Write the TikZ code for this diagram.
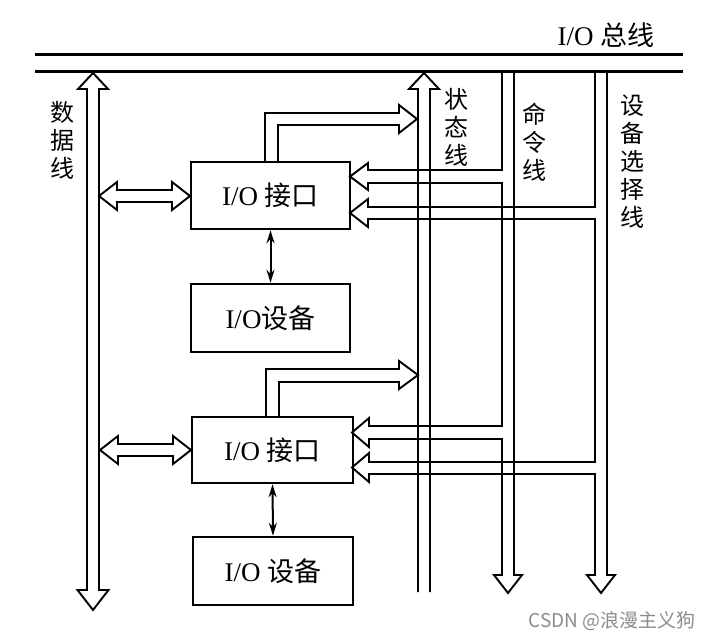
\documentclass[tikz,border=0pt]{standalone}
\usepackage{fontspec}
\setmainfont{Liberation Serif}
\newfontfamily\cjk{Noto Sans CJK SC}
\usetikzlibrary{arrows.meta}
\begin{document}
\begin{tikzpicture}[x=1pt,y=-1pt,
  busline/.style={line width=3pt},
  wire/.style={line width=1.9pt, line join=miter},
  box/.style={draw, line width=2.6pt, inner sep=0pt, font=\fontsize{27}{30}\selectfont},
  vlabel/.style={align=center, inner sep=0pt, font=\cjk\fontsize{24}{28}\selectfont},
  thinarrow/.style={line width=2pt, {Stealth[length=13pt,width=8pt]}-{Stealth[length=13pt,width=8pt]}}]
\useasboundingbox (0,0) rectangle (712,640);

% bus
\draw[busline] (35,54) -- (683,54);
\draw[busline] (35,71) -- (683,71);
\node[inner sep=0pt, font=\fontsize{27}{30}\selectfont] (buslabel) at (606,35) {I/O {\cjk 总线}};

% boxes
\node[box, minimum width=159pt, minimum height=67pt] (if1) at (270.5,195.5) {I/O {\cjk 接口}};
\node[box, minimum width=159pt, minimum height=68pt] (dev1) at (270.5,318) {I/O{\cjk 设备}};
\node[box, minimum width=161pt, minimum height=66pt] (if2) at (272.5,450) {I/O {\cjk 接口}};
\node[box, minimum width=160pt, minimum height=68pt] (dev2) at (273,571) {I/O {\cjk 设备}};

\draw[thinarrow] (if1.south) -- (dev1.north);
\draw[thinarrow] (if2.south) -- (dev2.north);

% data line
\draw[wire] (93,73) -- (108,89) -- (99,89) -- (99,590) -- (108.5,590) -- (93,610) -- (77.5,590) -- (87,590) -- (87,89) -- (78,89) -- cycle;
\node[vlabel] (datalabel) at (62,140) {数\\据\\线};

% data line <-> interfaces
\draw[wire] (99,196) -- (117,182) -- (117,190) -- (172,190) -- (172,182) -- (190,196) -- (172,210) -- (172,202) -- (117,202) -- (117,210) -- cycle;
\draw[wire] (100,450) -- (118,436) -- (118,444) -- (173,444) -- (173,436) -- (191,450) -- (173,464) -- (173,456) -- (118,456) -- (118,464) -- cycle;

% status line
\draw[wire] (418,592) -- (418,89) -- (409,89) -- (424,73) -- (439,89) -- (430,89) -- (430,592);
\node[vlabel] (statlabel) at (456,127) {状\\态\\线};

% status outputs
\draw[wire] (265,162) -- (265,113) -- (399,113) -- (399,105) -- (417,119) -- (399,133) -- (399,125) -- (278,125) -- (278,162);
\draw[wire] (266,417) -- (266,369) -- (399,369) -- (399,361) -- (418,375) -- (399,389) -- (399,382) -- (279,382) -- (279,417);

% command line
\draw[wire] (502,71) -- (502,170) -- (368,170) -- (368,163) -- (350,176.5) -- (368,190) -- (368,183) -- (502,183)
  -- (502,426) -- (369,426) -- (369,418) -- (352,432.5) -- (369,447) -- (369,439) -- (502,439)
  -- (502,575) -- (494,575) -- (508,593) -- (522,575) -- (514,575) -- (514,71);
\node[vlabel] (cmdlabel) at (534,142) {命\\令\\线};

% device select line
\draw[wire] (595,71) -- (595,207) -- (368,207) -- (368,199) -- (350,213) -- (368,227) -- (368,219) -- (595,219)
  -- (595,462) -- (369,462) -- (369,453) -- (352,467.5) -- (369,482) -- (369,474) -- (595,474)
  -- (595,575) -- (587,575) -- (601,593) -- (615,575) -- (607,575) -- (607,71);
\node[vlabel] (sellabel) at (632,162) {设\\备\\选\\择\\线};

% watermark
\node[inner sep=0pt, text=black!45, font=\cjk\fontsize{19}{21}\selectfont] (wm) at (612,621) {CSDN @浪漫主义狗};
\end{tikzpicture}
\end{document}
